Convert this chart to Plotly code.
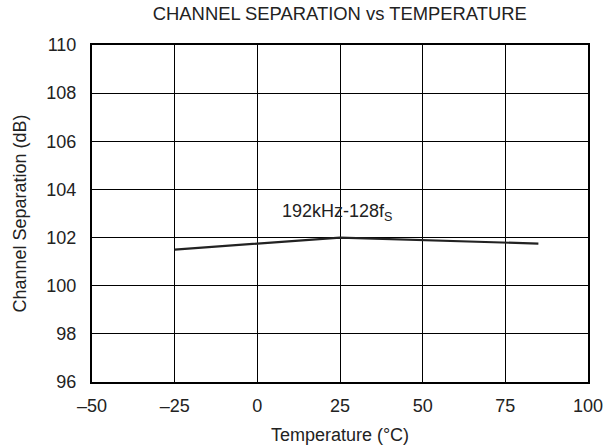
import plotly.graph_objects as go

temps = [-25, 25, 85]
separation = [101.5, 102.0, 101.75]
x_ticks = [-50, -25, 0, 25, 50, 75, 100]
x_tick_labels = ["–50", "–25", "0", "25", "50", "75", "100"]
y_ticks = [96, 98, 100, 102, 104, 106, 108, 110]

font = "Liberation Sans, Arial, sans-serif"
txt = "#222222"

fig = go.Figure()
fig.add_trace(go.Scatter(x=temps, y=separation, mode="lines",
                         line=dict(color="#222222", width=2.2), showlegend=False))

fig.add_annotation(x=24, y=103.05, text="192kHz-128f<sub>S</sub>", showarrow=False,
                   font=dict(family=font, size=18, color=txt))

fig.update_layout(
    width=610, height=447,
    margin=dict(l=92, r=22, t=45, b=65, autoexpand=False),
    paper_bgcolor="white", plot_bgcolor="white",
    font=dict(family=font, size=18, color=txt),
    title=dict(text="CHANNEL SEPARATION vs TEMPERATURE", x=0.557, xanchor="center",
               y=0.969, yanchor="middle", font=dict(family=font, size=18.4, color=txt)),
)
fig.update_xaxes(range=[-50, 100], tickvals=x_ticks, ticktext=x_tick_labels,
                 showgrid=True, gridcolor="black", gridwidth=1,
                 showline=True, linecolor="black", linewidth=2, mirror=True,
                 ticks="", zeroline=False, tickfont=dict(size=18),
                 ticklabelstandoff=6, automargin=False,
                 title=dict(text="Temperature (°C)", standoff=14, font=dict(size=18)))
fig.update_yaxes(range=[96, 110], tickvals=y_ticks,
                 showgrid=True, gridcolor="black", gridwidth=1,
                 showline=True, linecolor="black", linewidth=2, mirror=True,
                 ticks="", zeroline=False, tickfont=dict(size=18),
                 ticklabelstandoff=10, automargin=False,
                 title=dict(text="Channel Separation (dB)", standoff=15, font=dict(size=18)))

fig.write_html("out.html", config={"displayModeBar": False},
               post_script="document.body.style.margin='0';")
